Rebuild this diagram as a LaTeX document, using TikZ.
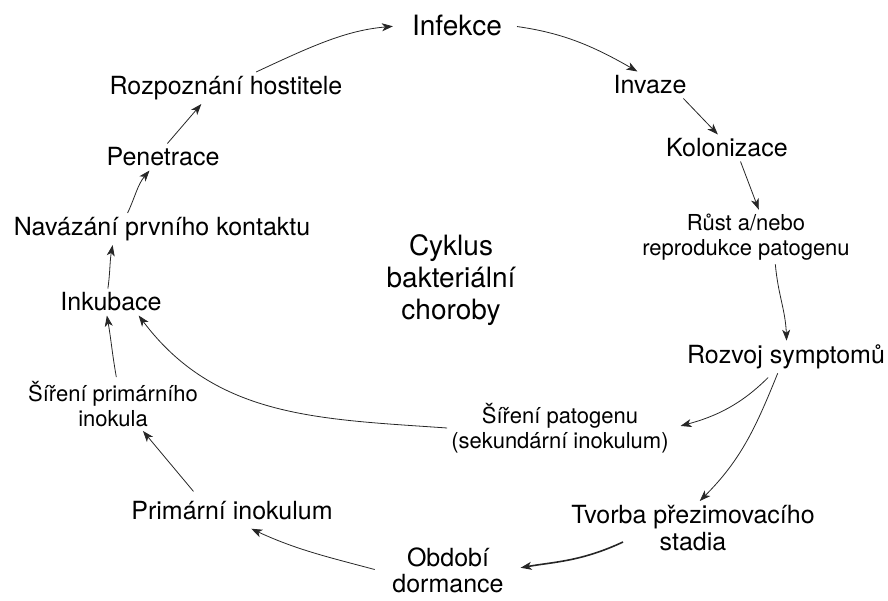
\documentclass[tikz,border=0pt]{standalone}
\usepackage{fontspec}
\setmainfont{TeX Gyre Heros}
\usepackage{tikz}
\usetikzlibrary{arrows.meta}

\begin{document}
\begin{tikzpicture}[x=1pt,y=1pt,
  faze/.style={font=\fontsize{25}{27}\selectfont, align=center, inner sep=4pt},
  fazemala/.style={faze, font=\fontsize{22}{25}\selectfont},
  fazevelka/.style={faze, font=\fontsize{28}{32}\selectfont},
  sipka/.style={-{Stealth[length=11pt,width=8pt,inset=3pt]}, line width=0.8pt, black!85}]
\useasboundingbox (0,0) rectangle (888,-600);
\node[fazevelka] (infekce) at (457,-25) {Infekce};
\node[faze] (invaze) at (650,-85) {Invaze};
\node[faze] (kolonizace) at (727,-148) {Kolonizace};
\node[fazemala] (rust) at (746,-237) {Růst a/nebo\\reprodukce patogenu};
\node[faze] (rozvoj) at (786,-357) {Rozvoj symptomů};
\node[fazemala] (patogen) at (560,-428) {Šíření patogenu\\(sekundární inokulum)};
\node[faze] (tvorba) at (693,-528) {Tvorba přezimovacího\\stadia};
\node[faze, font=\fontsize{25}{26}\selectfont] (obdobi) at (448,-570) {Období\\dormance};
\node[faze] (primarni) at (232,-511) {Primární inokulum};
\node[fazemala] (sireniprim) at (113,-404) {Šíření primárního\\inokula};
\node[faze] (inkubace) at (111,-302) {Inkubace};
\node[faze] (navazani) at (162,-229) {Navázání prvního kontaktu};
\node[faze] (penetrace) at (163,-157) {Penetrace};
\node[faze] (rozpoznani) at (226,-88) {Rozpoznání hostitele};
\node[fazevelka] (cyklus) at (451,-280) {Cyklus\\bakteriální\\choroby};
\draw[sipka, shorten >=15pt] (rozpoznani.28) to[out=25,in=185] (infekce.west);
\draw[sipka, shorten <=11pt] (infekce.east) to[out=-8,in=150] (invaze.133);
\draw[sipka] (invaze.338) -- (kolonizace.124);
\draw[sipka] (kolonizace.315) -- (rust.65);
\draw[sipka] (rust.317) to[out=-85,in=92] (rozvoj.88);
\draw[sipka, shorten <=6pt, shorten >=8pt] (rozvoj.230) to[out=225,in=15] (patogen.east);
\draw[sipka] (rozvoj.243) to[out=248,in=45] (tvorba.76);
\draw[sipka, line width=1.6pt, shorten >=13pt] ([shift={(-70,-14)}]tvorba.center) to[out=205,in=10] (obdobi.east);
\draw[sipka, shorten <=14pt, shorten >=10pt] (obdobi.183) to[out=165,in=-25] (primarni.307);
\draw[sipka, shorten <=8pt] (primarni.158) -- (sireniprim.318);
\draw[sipka] (sireniprim.83) to[out=100,in=-80] (inkubace.253);
\draw[sipka] (patogen.west) to[out=176,in=-53] (inkubace.334);
\draw[sipka] (inkubace.103) to[out=82,in=-100] (navazani.198);
\draw[sipka] (navazani.155) to[out=65,in=-130] (penetrace.225);
\draw[sipka] (penetrace.72) -- (rozpoznani.213);
\end{tikzpicture}
\end{document}
